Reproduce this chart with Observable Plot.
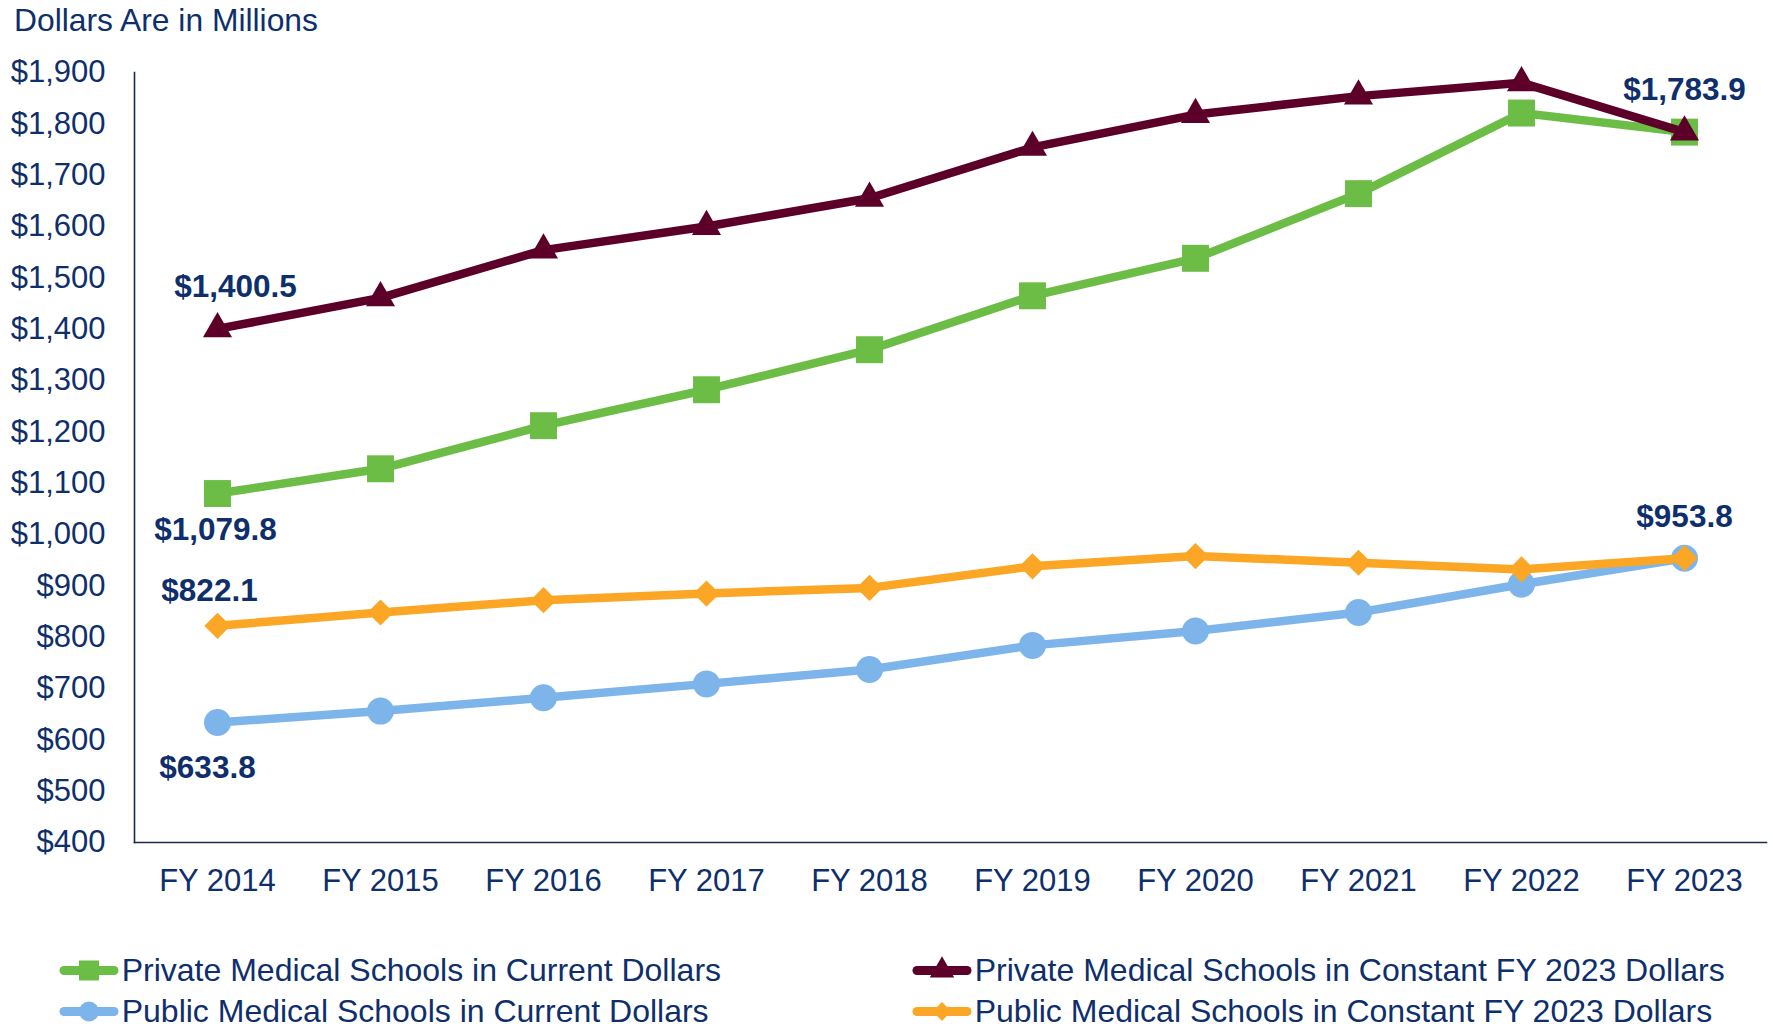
<!DOCTYPE html>
<html>
<head>
<meta charset="utf-8">
<script src="https://cdn.jsdelivr.net/npm/d3@7"></script>
<script src="https://cdn.jsdelivr.net/npm/@observablehq/plot@0.6"></script>
<style>
  html, body { margin: 0; padding: 0; background: #ffffff; }
  #page { position: relative; width: 1773px; height: 1030px; overflow: hidden; font-family: "Liberation Sans", Arial, sans-serif; }
  #page > svg { position: absolute; left: 0; top: 0; }
  #overlay { pointer-events: none; }
</style>
</head>
<body>
<div id="page"></div>
<script>
// ---- data ----
const years = ["FY 2014", "FY 2015", "FY 2016", "FY 2017", "FY 2018", "FY 2019", "FY 2020", "FY 2021", "FY 2022", "FY 2023"];
const privateCurrent  = [1079.8, 1128, 1212, 1282, 1360, 1465, 1538, 1664, 1821, 1783.9];
const privateConstant = [1400.5, 1461, 1554, 1600, 1655, 1754, 1818, 1854, 1880, 1783.9];
const publicCurrent   = [633.8, 656, 682, 709, 737, 784, 812, 848, 903, 953.8];
const publicConstant  = [822.1, 848, 872, 885, 896, 938, 958, 945, 932, 953.8];
const yTicks = [400, 500, 600, 700, 800, 900, 1000, 1100, 1200, 1300, 1400, 1500, 1600, 1700, 1800, 1900];
const seriesNames = [
  "Private Medical Schools in Current Dollars",
  "Private Medical Schools in Constant FY 2023 Dollars",
  "Public Medical Schools in Current Dollars",
  "Public Medical Schools in Constant FY 2023 Dollars"
];
const titleText = "Dollars Are in Millions";

// ---- styles ----
const navy = "#0e2f6b";
const axisColor = "#1b2a4e";
const green = "#6bbd45";
const maroon = "#5c0029";
const blue = "#7db5ea";
const orange = "#fba624";

const rows = (vals) => years.map((year, i) => ({year, value: vals[i]}));
const dPrivCur = rows(privateCurrent);
const dPrivCon = rows(privateConstant);
const dPubCur = rows(publicCurrent);
const dPubCon = rows(publicConstant);
const fmt = d3.format("$,.1f");
const first = (d, i) => i === 0;
const last = (d, i) => i === years.length - 1;

const lw = 8.5;
const labelOpts = (extra) => Object.assign({x: "year", y: "value", text: d => fmt(d.value), fill: navy, fontWeight: "bold", fontSize: 31.5}, extra);

const chart = Plot.plot({
  width: 1773,
  height: 930,
  marginLeft: 134,
  marginRight: 7,
  marginTop: 72,
  marginBottom: 88,
  style: {fontFamily: "'Liberation Sans', Arial, sans-serif", fontSize: "31px", color: navy, background: "transparent", overflow: "visible"},
  x: {type: "point", domain: years, padding: 0.5, label: null, tickSize: 0, tickPadding: 26},
  y: {domain: [400, 1900], ticks: yTicks, tickFormat: d => "$" + d3.format(",")(d), tickSize: 0, tickPadding: 29, label: null},
  marks: [
    Plot.frame({anchor: "left", stroke: axisColor, strokeWidth: 1.6}),
    Plot.frame({anchor: "bottom", stroke: axisColor, strokeWidth: 1.6}),
    Plot.line(dPrivCur, {x: "year", y: "value", stroke: green, strokeWidth: lw, strokeLinejoin: "round"}),
    Plot.dot(dPrivCur, {x: "year", y: "value", symbol: "square", r: 15.2, fill: green, stroke: "none"}),
    Plot.line(dPrivCon, {x: "year", y: "value", stroke: maroon, strokeWidth: lw, strokeLinejoin: "round"}),
    Plot.dot(dPrivCon, {x: "year", y: "value", symbol: "triangle", r: 10.8, fill: maroon, stroke: "none"}),
    Plot.line(dPubCur, {x: "year", y: "value", stroke: blue, strokeWidth: lw, strokeLinejoin: "round"}),
    Plot.dot(dPubCur, {x: "year", y: "value", symbol: "circle", r: 13.5, fill: blue, stroke: "none"}),
    Plot.line(dPubCon, {x: "year", y: "value", stroke: orange, strokeWidth: lw, strokeLinejoin: "round"}),
    Plot.dot(dPubCon, {x: "year", y: "value", symbol: "diamond2", r: 11.8, fill: orange, stroke: "none"}),
    Plot.text(dPrivCon, labelOpts({filter: first, dx: 18, dy: -42})),
    Plot.text(dPrivCur, labelOpts({filter: first, dx: -2, dy: 36})),
    Plot.text(dPubCon, labelOpts({filter: first, dx: -8, dy: -35})),
    Plot.text(dPubCur, labelOpts({filter: first, dx: -10, dy: 45})),
    Plot.text(dPrivCon, labelOpts({filter: last, dx: 0, dy: -42})),
    Plot.text(dPubCur, labelOpts({filter: last, dx: 0, dy: -41}))
  ]
});
const page = document.getElementById("page");
page.appendChild(chart);

// ---- title + legend overlay ----
const ov = d3.select(page).append("svg")
  .attr("id", "overlay")
  .attr("width", 1773).attr("height", 1030)
  .style("font-family", "'Liberation Sans', Arial, sans-serif");

ov.append("text").attr("x", 14).attr("y", 31)
  .attr("font-size", 31.8).attr("fill", navy).text(titleText);

const legendItems = [
  {name: seriesNames[0], color: green, symbol: d3.symbolSquare, size: 20 * 20, x: 60, y: 970.5},
  {name: seriesNames[1], color: maroon, symbol: d3.symbolTriangle, size: 260, x: 913, y: 970.5},
  {name: seriesNames[2], color: blue, symbol: d3.symbolCircle, size: 10 * 10 * Math.PI, x: 60, y: 1011.5},
  {name: seriesNames[3], color: orange, symbol: d3.symbolDiamond2, size: 15 * 15, x: 913, y: 1011.5}
];
legendItems.forEach(it => {
  const g = ov.append("g").attr("transform", `translate(${it.x},${it.y})`);
  g.append("line").attr("x1", 4).attr("x2", 54).attr("y1", 0).attr("y2", 0)
    .attr("stroke", it.color).attr("stroke-width", 9).attr("stroke-linecap", "round");
  g.append("path").attr("transform", "translate(29,0)")
    .attr("d", d3.symbol(it.symbol, it.size)()).attr("fill", it.color);
  g.append("text").attr("x", 61.7).attr("y", 0).attr("dy", "0.33em")
    .attr("font-size", 32).attr("fill", navy).text(it.name);
});
</script>
</body>
</html>
